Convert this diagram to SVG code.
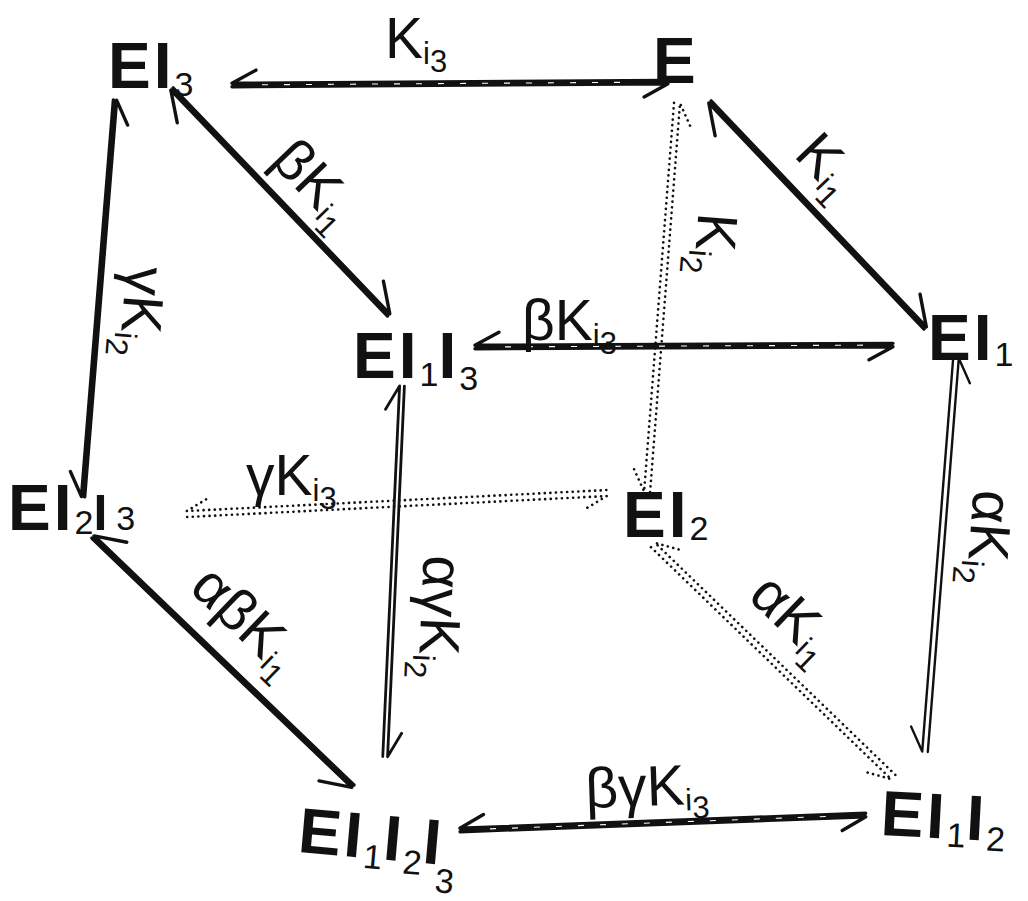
<svg xmlns="http://www.w3.org/2000/svg" width="1028" height="901" viewBox="0 0 1028 901">
<style>
.n{font-family:"Liberation Sans",Arial,sans-serif;font-size:64px;font-weight:bold;fill:#111;letter-spacing:3px}
.ns{font-size:34px;font-weight:normal;letter-spacing:0}
.l{font-family:"Liberation Sans",Arial,sans-serif;font-size:57px;fill:#111}
.ls{font-size:31px}
.c{fill:none;stroke:#111;stroke-linecap:round;stroke-linejoin:round}
.s{stroke-width:3.4}
.d{stroke-width:2.6;stroke-dasharray:0.1 5.5}
.w{fill:none;stroke:#fff;stroke-width:1.1;stroke-dasharray:6 16}
</style>
<rect width="1028" height="901" fill="#fff"/>
<g id="connectors">
  <g transform="translate(232,85) rotate(-0.39)"><path class="c s" d="M0,1.7H436l-24,13M436,-1.7H0l24,-13"/><path class="w" d="M30,0H400"/></g>
  <g transform="translate(172,89) rotate(46.2) scale(1,-1)"><path class="c s" d="M0,1.6H313l-28,18M313,-1.6H0l28,-18"/></g>
  <g transform="translate(710,102) rotate(46.4) scale(1,-1)"><path class="c s" d="M0,1.6H312l-28,18M312,-1.6H0l28,-18"/></g>
  <g transform="translate(677,103) rotate(94.4)"><path class="c d" d="M0,3H390l-24,13M390,-3H0l24,-13"/></g>
  <g transform="translate(475,347) rotate(-0.27)"><path class="c s" d="M0,1.7H418l-24,13M418,-1.7H0l24,-13"/><path class="w" d="M30,0H390"/></g>
  <g transform="translate(115,100) rotate(94.6)"><path class="c s" d="M0,1.6H398l-24,13M398,-1.6H0l24,-13"/></g>
  <g transform="translate(187,514) rotate(-2.86)"><path class="c d" d="M0,3H420l-24,13M420,-3H0l24,-13"/></g>
  <g transform="translate(402,386) rotate(92.6) scale(1,-1)"><path class="c" stroke-width="2.8" d="M0,2.4H371l-24,13M371,-2.4H0l24,-13"/></g>
  <g transform="translate(956,358) rotate(94.5)"><path class="c" stroke-width="2.4" d="M0,2.8H395l-24,13M395,-2.8H0l24,-13"/></g>
  <g transform="translate(653,545) rotate(44)"><path class="c d" d="M0,3H334l-26,14M334,-3H0l26,-14"/></g>
  <g transform="translate(93,537) rotate(43.8)"><path class="c s" d="M0,1.6H360l-28,18M360,-1.6H0l28,-18"/></g>
  <g transform="translate(460,830) rotate(-2.12)"><path class="c s" d="M0,1.7H406l-24,13M406,-1.7H0l24,-13"/><path class="w" d="M30,0H380"/></g>
</g>
<g id="labels">
  <text class="l" x="385" y="58">K<tspan class="ls" dy="6">i</tspan><tspan class="ls" dy="8">3</tspan></text>
  <text class="l" transform="translate(300,198) rotate(46.2)" text-anchor="middle" y="-3">βK<tspan class="ls" dy="6">i</tspan><tspan class="ls" dy="8">1</tspan></text>
  <text class="l" transform="translate(812,180) rotate(46.4)" text-anchor="middle" y="-3">K<tspan class="ls" dy="6">i</tspan><tspan class="ls" dy="8">1</tspan></text>
  <text class="l" transform="translate(701,243) rotate(94.4)" text-anchor="middle" y="5">K<tspan class="ls" dy="6">i</tspan><tspan class="ls" dy="8">2</tspan></text>
  <text class="l" transform="translate(129,311) rotate(94.6)" text-anchor="middle" y="6">γK<tspan class="ls" dy="6">i</tspan><tspan class="ls" dy="8">2</tspan></text>
  <text class="l" x="522" y="340">βK<tspan class="ls" dy="6">i</tspan><tspan class="ls" dy="8">3</tspan></text>
  <text class="l" x="246" y="495">γK<tspan class="ls" dy="6">i</tspan><tspan class="ls" dy="8">3</tspan></text>
  <text class="l" transform="translate(430,617) rotate(92.6)" text-anchor="middle" y="9">αγK<tspan class="ls" dy="6">i</tspan><tspan class="ls" dy="8">2</tspan></text>
  <text class="l" transform="translate(979,537) rotate(94.5)" text-anchor="middle" y="9">αK<tspan class="ls" dy="6">i</tspan><tspan class="ls" dy="8">2</tspan></text>
  <text class="l" transform="translate(779,633) rotate(44)" text-anchor="middle" y="-3">αK<tspan class="ls" dy="6">i</tspan><tspan class="ls" dy="8">1</tspan></text>
  <text class="l" transform="translate(232,636) rotate(43.8)" text-anchor="middle" y="-3">αβK<tspan class="ls" dy="6">i</tspan><tspan class="ls" dy="8">1</tspan></text>
  <text class="l" transform="rotate(-2,586,808)" x="586" y="808">βγK<tspan class="ls" dy="6">i</tspan><tspan class="ls" dy="8">3</tspan></text>
</g>
<g id="node-EI3"><text class="n" x="108" y="88">EI<tspan class="ns" dy="8">3</tspan></text></g>
<g id="node-E"><text class="n" x="653" y="83" font-size="68">E</text></g>
<g id="node-EI1I3"><text class="n" x="353" y="378">EI<tspan class="ns" dy="8">1</tspan><tspan dy="-8">I</tspan><tspan class="ns" dy="12">3</tspan></text></g>
<g id="node-EI1"><text class="n" x="928" y="360">EI<tspan class="ns" dy="6">1</tspan></text></g>
<g id="node-EI2I3"><text class="n" x="8" y="530">EI<tspan class="ns" dy="4">2</tspan><tspan dy="-4" font-size="50">I</tspan><tspan class="ns" dx="6">3</tspan></text></g>
<g id="node-EI2"><text class="n" x="623" y="537">EI<tspan class="ns" dy="3">2</tspan></text></g>
<g id="node-EI1I2I3"><text class="n" transform="rotate(5,297,852)" x="297" y="852">EI<tspan class="ns" dy="10">1</tspan><tspan dy="-10">I</tspan><tspan class="ns" dy="12">2</tspan><tspan dy="-12">I</tspan><tspan class="ns" dx="-6" dy="28">3</tspan></text></g>
<g id="node-EI1I2"><text class="n" transform="rotate(3,880,835)" x="880" y="835">EI<tspan class="ns" dy="8">1</tspan><tspan dy="-8">I</tspan><tspan class="ns" dy="10">2</tspan></text></g>
</svg>
